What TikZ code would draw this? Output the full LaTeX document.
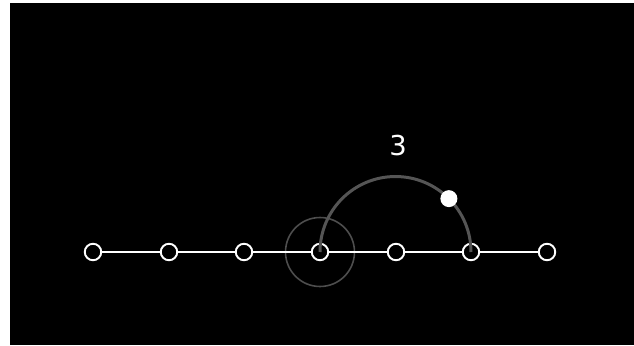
\documentclass[tikz,border=0pt]{standalone}
\usepackage{fontspec}
\setmainfont{DejaVu Sans}
\usepackage{tikz}
\usetikzlibrary{positioning,calc}
\usepackage{xcolor}
\definecolor{arcgray}{RGB}{85,85,85}
\definecolor{ringgray}{RGB}{78,78,78}

\begin{document}
\begin{tikzpicture}[x=0.02cm, y=0.02cm,
    stone/.style={circle, draw=white, fill=black, line width=1.1pt, inner sep=0pt, minimum size=0.33cm},
    marker/.style={circle, fill=white, inner sep=0pt, minimum size=0.34cm}]
    % Page and black panel
    \useasboundingbox (0,0) rectangle (634,345);
    \fill[white] (0,0) rectangle (634,345);
    \fill[black] (10,0) rectangle (634,342);
    % Points on the line
    \foreach \i/\x in {1/93, 2/169, 3/244, 4/320, 5/396, 6/471, 7/547}
        \coordinate (c\i) at (\x,93);
    % Halo round the current point
    \node[circle, draw=ringgray, line width=0.9pt, minimum size=1.38cm] (ring) at (c4) {};
    % Line
    \draw[white, line width=0.85pt] (c1) -- (c7);
    % Stones
    \foreach \i in {1,...,7}
        \node[stone] (p\i) at (c\i) {};
    % Jump arc
    \coordinate (mid) at ($(p4)!0.5!(p6)$);
    \draw[arcgray, line width=1.7pt] (p4.center) arc[start angle=180, end angle=0, radius=1.51cm];
    \node[marker] (dot) at ($(mid)+(45:1.51cm)$) {};
    % Label
    \node[white, font=\fontsize{15.6}{18}\selectfont] (len) at (398,199) {3};
\end{tikzpicture}
\end{document}
